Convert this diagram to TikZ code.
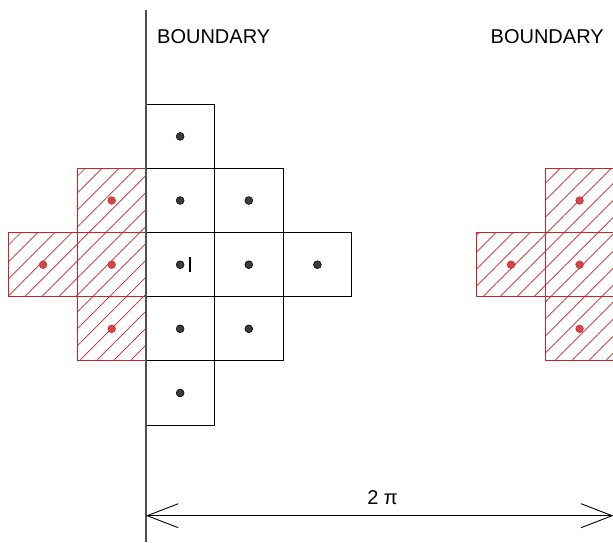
\documentclass[tikz,border=0pt]{standalone}
\usepackage{fontspec}
\setmainfont{Liberation Sans}
\usetikzlibrary{patterns.meta,arrows.meta}
\definecolor{hred}{HTML}{CC2229}
\definecolor{dred}{HTML}{D64545}
\definecolor{dgray}{HTML}{3C3C3C}
\definecolor{lgray}{HTML}{505050}
\begin{document}
\begin{tikzpicture}[x=1pt,y=-1pt,
 cell/.style={draw=black, line width=0.9pt, minimum width=68.6pt, minimum height=64.2pt, inner sep=0pt, outer sep=0pt},
 rcell/.style={draw=hred, line width=0.9pt, minimum width=68.6pt, minimum height=64.2pt, inner sep=0pt, outer sep=0pt,
   pattern={Lines[angle=45,distance=12pt,line width=0.7pt]}, pattern color=hred},
 bdot/.style={circle, fill=dgray, draw=black, line width=0.6pt, minimum size=7.8pt, inner sep=0pt},
 rdot/.style={circle, fill=dred, draw=hred, line width=0.4pt, minimum size=7.8pt, inner sep=0pt},
 lbl/.style={font=\fontsize{20}{24}\selectfont, inner sep=0pt},
 barb/.style={line width=0.9pt, {Straight Barb[length=31pt,width=24pt]}-{Straight Barb[length=31pt,width=24pt]}}]
\useasboundingbox (0,0) rectangle (613,542);
% red hatched cells (periodic images)
\foreach \n/\x/\y in {l1/111.7/200.5, l2/111.7/264.7, l3/111.7/328.8, l4/43.1/264.7,
                      r1/579.6/200.5, r2/579.6/264.7, r3/579.6/328.8, r4/511.0/264.7} {
  \node[rcell] (\n) at (\x,\y) {};
  \node[rdot] (d\n) at (\n.center) {};
}
% black cells
\foreach \n/\x/\y in {c1/180.15/136.4, c2/180.15/200.5, c3/180.15/264.7, c4/180.15/328.8, c5/180.15/393.0,
                      e2/248.8/200.5, e3/248.8/264.7, e4/248.8/328.8, f3/317.4/264.7} {
  \node[cell] (\n) at (\x,\y) {};
  \node[bdot] (d\n) at (\n.center) {};
}
% cursor bar in center cell
\draw[line width=1.7pt] (190,257.3) -- (190,271.7);
% boundary line
\coordinate (btop) at (146,10);
\coordinate (bbot) at (146,542);
\draw[lgray, line width=1.2pt] (btop) -- (bbot);
% labels
\node[lbl, anchor=base west] (b1) at (157,43.3) {BOUNDARY};
\node[lbl, anchor=base west] (b2) at (490.5,43.3) {BOUNDARY};
% 2 pi arrow
\coordinate (al) at (146,515.7);
\coordinate (ar) at (613.3,515.7);
\draw[barb] (al) -- (ar);
\node[lbl, anchor=base] (pi) at (382.5,504) {2 π};
\end{tikzpicture}
\end{document}
